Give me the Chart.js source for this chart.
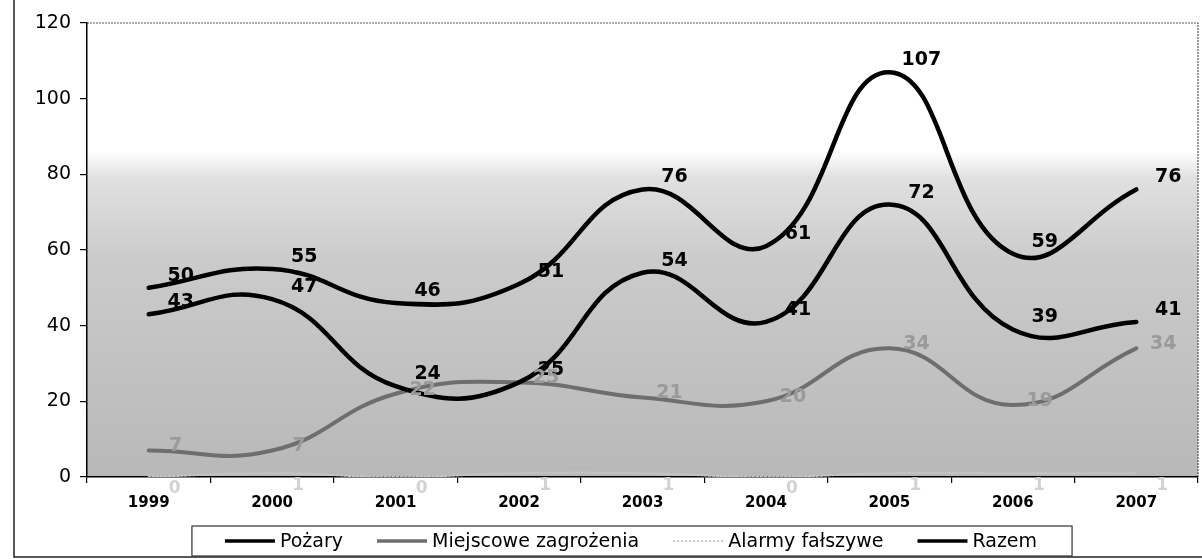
<!DOCTYPE html>
<html><head><meta charset="utf-8">
<script src="https://cdn.jsdelivr.net/npm/chart.js@4/dist/chart.umd.min.js"></script>
<style>html,body{margin:0;padding:0;background:#fff}#wrap{width:1202px;height:559px;position:relative}</style>
</head><body><div id="wrap"><canvas id="c" width="1202" height="559"></canvas></div>
<script>
const years = ['1999','2000','2001','2002','2003','2004','2005','2006','2007'];
const pozary = [43,47,24,25,54,41,72,39,41];
const miejscowe = [7,7,22,25,21,20,34,19,34];
const alarmy = [0,1,0,1,1,0,1,1,1];
const razem = [50,55,46,51,76,61,107,59,76];
const yMin = 0, yMax = 120, yStep = 20;

const FONT = "'DejaVu Sans', Verdana, sans-serif";

const bgPlugin = {
  id: 'bg',
  beforeDraw(chart) {
    const {ctx, chartArea: a} = chart;
    const g = ctx.createLinearGradient(0, a.top, 0, a.bottom);
    const h = a.bottom - a.top;
    g.addColorStop(0, '#ffffff');
    g.addColorStop((152 - a.top) / h, '#ffffff');
    g.addColorStop((178 - a.top) / h, '#e0e0e0');
    g.addColorStop((260 - a.top) / h, '#cbcbcb');
    g.addColorStop(1, '#b8b8b8');
    ctx.save();
    ctx.fillStyle = g;
    ctx.fillRect(a.left, a.top, a.right - a.left, a.bottom - a.top);
    ctx.strokeStyle = '#555';
    ctx.lineWidth = 1.2;
    ctx.setLineDash([2, 1]);
    ctx.beginPath();
    ctx.moveTo(a.left, a.top); ctx.lineTo(a.right, a.top); ctx.lineTo(a.right, a.bottom);
    ctx.stroke();
    ctx.restore();
  }
};

const labelPlugin = {
  id: 'vlabels',
  afterDatasetsDraw(chart) {
    const {ctx} = chart;
    chart.data.datasets.forEach((ds, i) => {
      const meta = chart.getDatasetMeta(i);
      if (meta.hidden) return;
      const lo = ds.labelOpts;
      ctx.save();
      ctx.font = lo.font;
      ctx.fillStyle = lo.color;
      ctx.textAlign = 'center';
      ctx.textBaseline = 'middle';
      meta.data.forEach((p, j) => {
        ctx.fillText(String(ds.data[j]), p.x + lo.dx, p.y + lo.dy);
      });
      ctx.restore();
    });
  }
};

const framePlugin = {
  id: 'frame',
  afterDraw(chart) {
    const {ctx} = chart;
    ctx.save();
    ctx.strokeStyle = '#222';
    ctx.lineWidth = 1.5;
    ctx.beginPath();
    ctx.moveTo(14, 0); ctx.lineTo(14, 557); ctx.lineTo(1202, 557);
    ctx.stroke();

    ctx.font = '19px ' + FONT;
    ctx.textBaseline = 'middle';
    const sample = 50, gapText = 5, gapItem = 34;
    const items = chart.data.datasets.map(ds => ({ds, w: ctx.measureText(ds.label).width}));
    let total = 0;
    items.forEach((it, k) => { total += sample + gapText + it.w + (k ? gapItem : 0); });
    const cx = 631, cy = 541;
    let x = cx - total / 2;
    const start = x;
    items.forEach((it, k) => {
      if (k) x += gapItem;
      ctx.save();
      ctx.strokeStyle = it.ds.borderColor;
      ctx.lineWidth = Math.min(it.ds.borderWidth, 3.5);
      ctx.setLineDash(it.ds.borderDash || []);
      ctx.beginPath(); ctx.moveTo(x, cy); ctx.lineTo(x + sample, cy); ctx.stroke();
      ctx.restore();
      x += sample + gapText;
      ctx.fillStyle = '#000';
      ctx.textAlign = 'left';
      ctx.fillText(it.ds.label, x, cy + 1);
      x += it.w;
    });
    const end = x;
    ctx.strokeStyle = '#333';
    ctx.lineWidth = 1.2;
    ctx.strokeRect(start - 33, 526, (end + 35) - (start - 33), 30);
    ctx.restore();
  }
};

const lblBlack = {font: 'bold 19px ' + FONT, color: '#000', dx: 32, dy: -12};

new Chart(document.getElementById('c'), {
  type: 'line',
  data: {
    labels: years,
    datasets: [
      {label: 'Pożary', data: pozary, borderColor: '#000', borderWidth: 4.5, labelOpts: lblBlack},
      {label: 'Miejscowe zagrożenia', data: miejscowe, borderColor: '#6e6e6e', borderWidth: 4,
       labelOpts: {font: 'bold 19px ' + FONT, color: '#9a9a9a', dx: 27, dy: -4}},
      {label: 'Alarmy fałszywe', data: alarmy, borderColor: '#c4c4c4', borderWidth: 2, borderDash: [2, 2],
       labelOpts: {font: 'bold 17px ' + FONT, color: '#d2d2d2', dx: 26, dy: 12}},
      {label: 'Razem', data: razem, borderColor: '#000', borderWidth: 4.5, labelOpts: lblBlack}
    ].map(d => Object.assign({fill: false, tension: 0.45, pointRadius: 0, pointHoverRadius: 0,
                              backgroundColor: d.borderColor, borderCapStyle: 'round'}, d))
  },
  options: {
    responsive: false,
    animation: false,
    events: [],
    layout: {padding: {left: 0, right: 4, top: 23, bottom: 35}},
    plugins: {legend: {display: false}, tooltip: {enabled: false}},
    scales: {
      x: {
        offset: true,
        grid: {display: true, drawOnChartArea: false, offset: true, tickLength: 6, color: '#000', lineWidth: 1.2},
        border: {display: true, color: '#000', width: 1.5},
        ticks: {color: '#000', font: {family: FONT, size: 15, weight: 'bold'}, padding: 11, maxRotation: 0},
        afterFit(s) { s.height = 47; }
      },
      y: {
        min: yMin, max: yMax,
        grid: {display: true, drawOnChartArea: false, tickLength: 7, color: '#000', lineWidth: 1.2},
        border: {display: true, color: '#000', width: 1.5},
        ticks: {stepSize: yStep, color: '#000', font: {family: FONT, size: 19}, padding: 9},
        afterFit(s) { s.width = 87; }
      }
    }
  },
  plugins: [bgPlugin, labelPlugin, framePlugin]
});
</script>
</body></html>
